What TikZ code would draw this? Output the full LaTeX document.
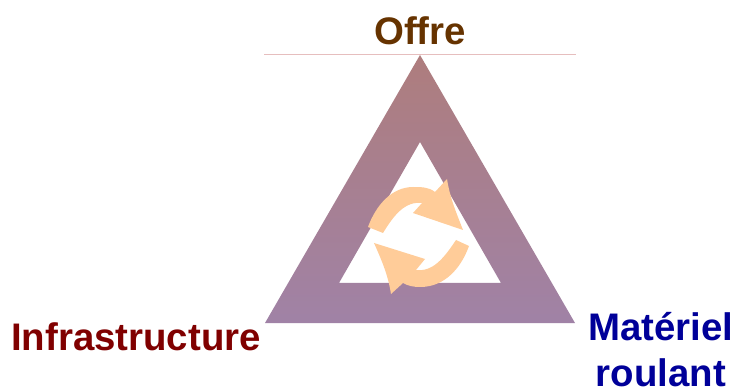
\documentclass[tikz,border=0pt]{standalone}
\usepackage{fontspec}
\setmainfont{Liberation Sans}
\definecolor{offrebrown}{RGB}{102,51,0}
\definecolor{infrared}{RGB}{128,0,0}
\definecolor{rollblue}{RGB}{0,0,153}
\definecolor{cycleorange}{RGB}{255,204,153}
\definecolor{toprule}{RGB}{230,190,190}
\definecolor{ringtop}{RGB}{174,125,125}
\definecolor{ringbottom}{RGB}{160,130,166}
\tikzset{
  pole/.style={
    font=\fontsize{38.4}{45}\selectfont\bfseries,
    align=center,
    inner sep=0pt
  },
  cycle/.style={
    fill=cycleorange,
    draw=none
  },
  ring/.style={
    even odd rule,
    top color=ringtop,
    bottom color=ringbottom,
    draw=none
  }
}
\begin{document}
\begin{tikzpicture}[x=1pt,y=-1pt]
\useasboundingbox (0,0) rectangle (736,387);

% corners
\coordinate (top) at (420,55);
\coordinate (left) at (265,323);
\coordinate (right) at (575,323);
\coordinate (itop) at (420,142);
\coordinate (ileft) at (339,283);
\coordinate (iright) at (501,283);

% ring
\draw[toprule] (264,54.5) -- (576,54.5);
\shade[ring] (top) -- (right) -- (left) -- cycle
  (itop) -- (iright) -- (ileft) -- cycle;

% arrows
\fill[cycle] (368,227) .. controls (376,205) and (392,187) .. (413,187)
  .. controls (421,187) and (429,187) .. (435,192)
  -- (447,179) .. controls (450,198) and (456,212) .. (463,230)
  -- (413,213) -- (422,203) .. controls (405,201) and (394,215) .. (383,233) -- cycle;
\fill[cycle] (469,246) .. controls (461,268) and (445,287) .. (420,287)
  .. controls (414,287) and (408,286) .. (403,283)
  -- (391,294) .. controls (388,275) and (382,261) .. (374,243)
  -- (425,259) -- (416,270) .. controls (433,272) and (444,258) .. (456,240) -- cycle;

% labels
\node[pole, text=offrebrown] (offre) at (420,31) {Offre};
\node[pole, text=infrared] (infra) at (136,337) {Infrastructure};
\node[pole, text=rollblue] (materiel) at (661,350) {Matériel\\[1pt]roulant};
\end{tikzpicture}
\end{document}
